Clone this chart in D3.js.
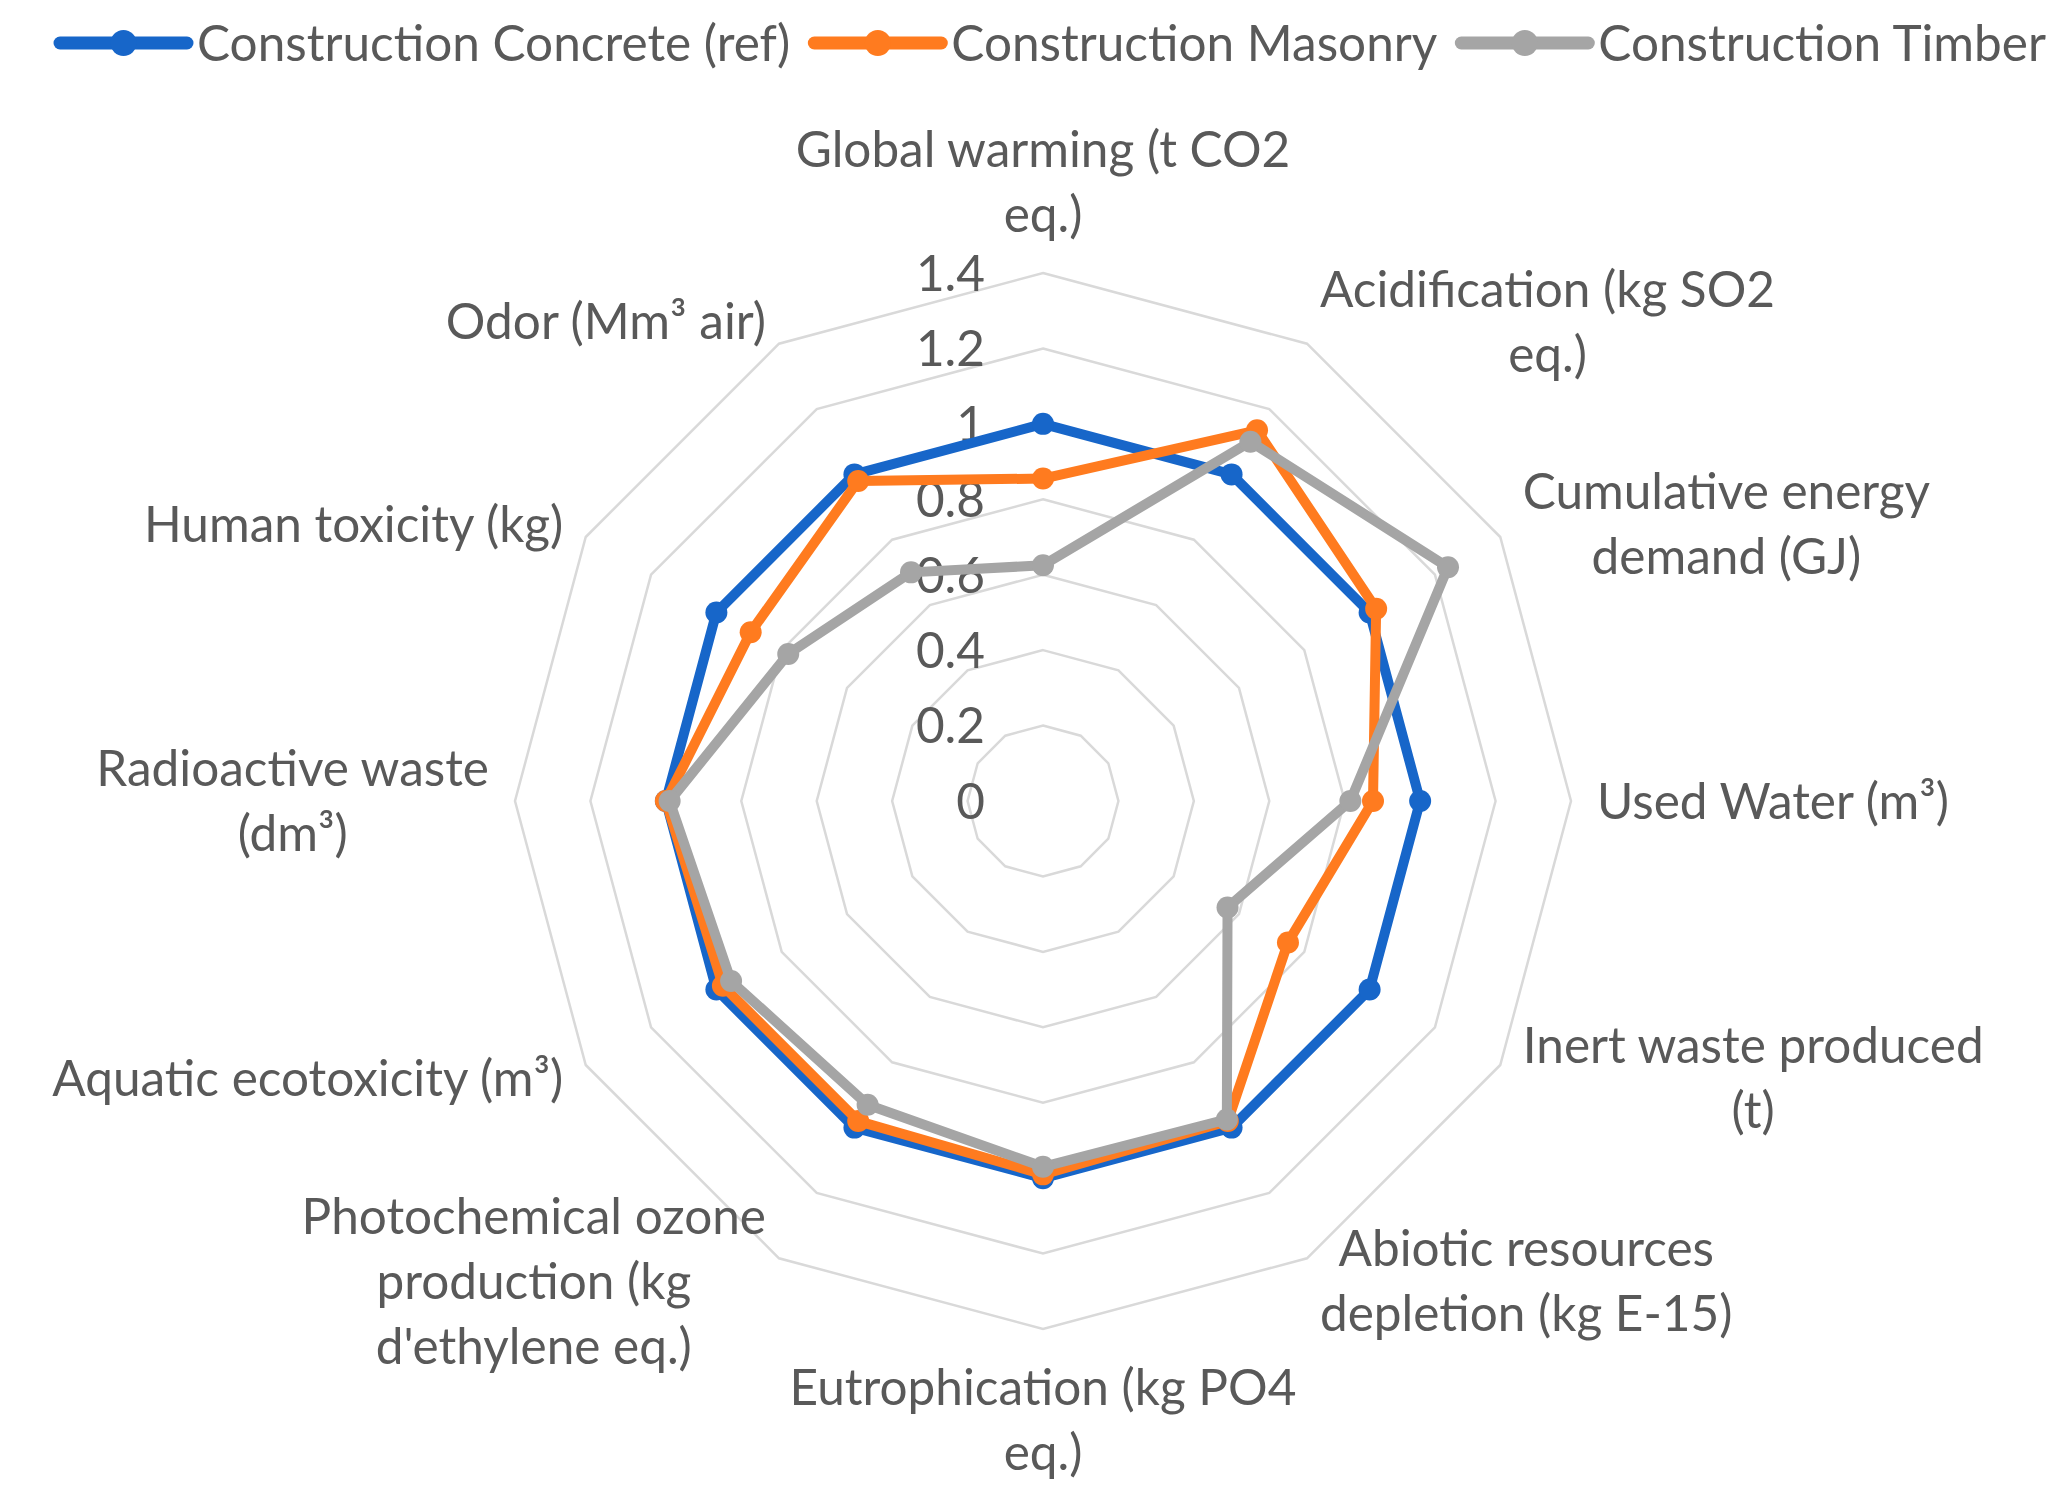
<!DOCTYPE html>
<html><head><meta charset="utf-8">
<script src="https://cdn.jsdelivr.net/npm/d3@7/dist/d3.min.js"></script>
<style>
body{margin:0;background:#fff}
text{font-family:Lato,'Open Sans',sans-serif;fill:#595959}
</style></head>
<body>
<svg id="chart" width="2065" height="1511"></svg>
<script>
const categories = [
  ["Global warming (t CO2","eq.)"],
  ["Acidification (kg SO2","eq.)"],
  ["Cumulative energy","demand (GJ)"],
  ["Used Water (m³)"],
  ["Inert waste produced","(t)"],
  ["Abiotic resources","depletion (kg E-15)"],
  ["Eutrophication (kg PO4","eq.)"],
  ["Photochemical ozone","production (kg","d'ethylene eq.)"],
  ["Aquatic ecotoxicity (m³)"],
  ["Radioactive waste","(dm³)"],
  ["Human toxicity (kg)"],
  ["Odor (Mm³ air)"]
];
const seriesNames = ["Construction Concrete (ref)","Construction Masonry","Construction Timber"];
const concrete = [1, 1, 1, 1, 1, 1, 1, 1, 1, 1, 1, 1];
const masonry  = [0.855, 1.135, 1.02, 0.875, 0.75, 0.98, 0.99, 0.98, 0.98, 1.0, 0.895, 0.98];
const timber   = [0.625, 1.10, 1.24, 0.815, 0.565, 0.975, 0.97, 0.93, 0.955, 0.99, 0.78, 0.70];
const tickValues = [0, 0.2, 0.4, 0.6, 0.8, 1, 1.2, 1.4];
const tickLabels = ["0","0.2","0.4","0.6","0.8","1","1.2","1.4"];
const colors = ["#1766C9","#FF7B1F","#A5A5A5"];

const series = [concrete, masonry, timber];
const svg = d3.select("#chart");
const cx = 1043, cy = 801;
const fontSize = 49.5;
const n = categories.length;

const r = d3.scaleLinear().domain([0, 1.4]).range([0, 528]);
const angle = d3.scaleLinear().domain([0, n]).range([0, 2 * Math.PI]);

const g = svg.append("g").attr("transform", `translate(${cx},${cy})`);

// grid rings
const ring = d3.lineRadial()
  .angle((d, i) => angle(i))
  .radius(d => r(d))
  .curve(d3.curveLinearClosed);
g.append("g").selectAll("path")
  .data(tickValues.filter(t => t > 0))
  .join("path")
  .attr("d", t => ring(d3.range(n).map(() => t)))
  .attr("fill", "none")
  .attr("stroke", "#D9D9D9")
  .attr("stroke-width", 2.5);

// tick labels
g.append("g").selectAll("text")
  .data(tickValues)
  .join("text")
  .attr("x", -58)
  .attr("y", t => -r(t))
  .attr("dy", "0.36em")
  .attr("text-anchor", "end")
  .style("font-size", fontSize + "px")
  .text((t, i) => tickLabels[i]);

// series
const line = d3.lineRadial()
  .angle((d, i) => angle(i))
  .radius(d => r(d))
  .curve(d3.curveLinearClosed);
series.forEach((vals, si) => {
  const sg = g.append("g");
  sg.append("path")
    .attr("d", line(vals))
    .attr("fill", "none")
    .attr("stroke", colors[si])
    .attr("stroke-width", 10)
    .attr("stroke-linejoin", "round");
  sg.selectAll("circle")
    .data(vals)
    .join("circle")
    .attr("cx", (d, i) => r(d) * Math.sin(angle(i)))
    .attr("cy", (d, i) => -r(d) * Math.cos(angle(i)))
    .attr("r", 11)
    .attr("fill", colors[si]);
});

// category labels
const lineH = 65;
const labelR = r(1.4) + 26;
categories.forEach((lines, i) => {
  const a = angle(i);
  const s = Math.sin(a), c = Math.cos(a);
  const px = labelR * s, py = -labelR * c;
  const tg = g.append("g");
  const texts = tg.selectAll("text").data(lines).join("text")
    .attr("text-anchor", "middle")
    .style("font-size", fontSize + "px")
    .text(d => d);
  const W = d3.max(texts.nodes(), nd => nd.getComputedTextLength());
  const H = lines.length * lineH;
  let xc, top;
  if (Math.abs(s) < 0.01) {
    xc = px;
    top = c > 0 ? py - H : py;
  } else {
    xc = s > 0 ? px + W / 2 : px - W / 2;
    top = py - H / 2;
  }
  texts.attr("x", xc)
    .attr("y", (d, k) => top + lineH * (k + 0.5))
    .attr("dy", "0.36em");
});

// legend
const lg = svg.append("g").attr("transform", "translate(0,43)");
let x = 60;
seriesNames.forEach((name, i) => {
  const it = lg.append("g").attr("transform", `translate(${x},0)`);
  it.append("line").attr("x1", 0).attr("x2", 127).attr("y1", 0).attr("y2", 0)
    .attr("stroke", colors[i]).attr("stroke-width", 13).attr("stroke-linecap", "round");
  it.append("circle").attr("cx", 63.5).attr("cy", 0).attr("r", 13).attr("fill", colors[i]);
  const t = it.append("text").attr("x", 137).attr("dy", "0.36em")
    .style("font-size", fontSize + "px").text(name);
  x += 137 + t.node().getComputedTextLength() + 24;
});
</script>
</body></html>
